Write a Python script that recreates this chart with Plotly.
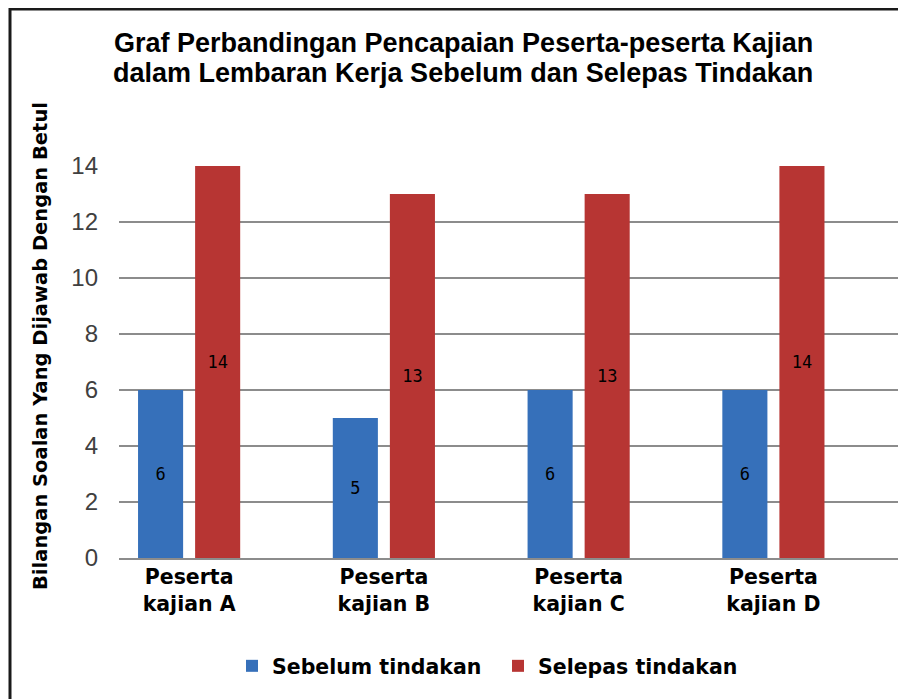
import plotly.graph_objects as go

categories = ["Peserta<br>kajian A", "Peserta<br>kajian B", "Peserta<br>kajian C", "Peserta<br>kajian D"]
sebelum = [6, 5, 6, 6]
selepas = [14, 13, 13, 14]
series_names = ["Sebelum tindakan", "Selepas tindakan"]
y_ticks = [0, 2, 4, 6, 8, 10, 12, 14]
title_lines = ["Graf Perbandingan Pencapaian Peserta-peserta Kajian",
               "dalam Lembaran Kerja Sebelum dan Selepas Tindakan"]
y_title = "Bilangan Soalan Yang Dijawab Dengan Betul"

W, H = 906, 699
OFF = 8  # page body margin
# plot area in screen coordinates
SL, SR, ST, SB = 119, 900, 166, 558
L, T = SL - OFF, ST - OFF
pw, ph = SR - SL, SB - ST
R = W - L - pw
B = H - T - ph

def px_x(s):
    return (s - SL) / pw

def px_y(s):
    return (SB - s) / ph

label_font = dict(family="DejaVu Sans Mono", size=17, color="#000000")

fig = go.Figure()
fig.add_trace(go.Bar(
    x=categories, y=sebelum, name=series_names[0],
    marker=dict(color="#3670BA", line=dict(width=0)),
    text=sebelum, textposition="inside", insidetextanchor="middle",
    textfont=label_font, textangle=0,
))
fig.add_trace(go.Bar(
    x=categories, y=selepas, name=series_names[1],
    marker=dict(color="#B73533", line=dict(width=0)),
    text=selepas, textposition="inside", insidetextanchor="middle",
    textfont=label_font, textangle=0,
))

title_font = dict(family="Liberation Sans", size=27, color="#000000", weight="bold")

fig.update_layout(
    width=W, height=H,
    margin=dict(l=L, r=R, t=T, b=B, autoexpand=False),
    paper_bgcolor="white", plot_bgcolor="white",
    barmode="group", bargap=0.414, bargroupgap=0.21,
    xaxis=dict(
        range=[-0.36, 3.65], showgrid=False, showline=True, linecolor="#8c8c8c", linewidth=1.5,
        ticks="", tickfont=dict(family="DejaVu Sans", size=20.5, color="#000000", weight="bold"),
        zeroline=False,
    ),
    yaxis=dict(
        range=[0, 14], tickvals=y_ticks, showgrid=True, gridcolor="#8c8c8c", gridwidth=1.5,
        showline=False, zeroline=False, ticks="",
        tickfont=dict(family="Liberation Sans", size=24, color="#404040"),
        ticklabelstandoff=20,
    ),
    legend=dict(
        orientation="h", x=px_x(232), xanchor="left", y=px_y(666), yanchor="middle",
        font=dict(family="DejaVu Sans", size=20.5, color="#000000", weight="bold"),
        itemsizing="constant", entrywidth=221, entrywidthmode="pixels",
        bgcolor="rgba(0,0,0,0)",
    ),
    annotations=[
        dict(text=title_lines[0], xref="paper", yref="paper", x=px_x(463), y=px_y(43),
             xanchor="center", yanchor="middle", showarrow=False, font=title_font),
        dict(text=title_lines[1], xref="paper", yref="paper", x=px_x(463), y=px_y(73),
             xanchor="center", yanchor="middle", showarrow=False, font=title_font),
        dict(text=y_title, textangle=-90,
             xref="paper", yref="paper", x=px_x(40), y=px_y(346),
             xanchor="center", yanchor="middle", showarrow=False,
             font=dict(family="DejaVu Sans", size=19.5, color="#000000", weight="bold")),
    ],
    shapes=[dict(
        type="rect", xref="paper", yref="paper",
        x0=px_x(10), x1=px_x(960), y0=px_y(760), y1=px_y(9),
        line=dict(color="#1a1a1a", width=3), fillcolor="rgba(0,0,0,0)", layer="above",
    )],
)

fig.write_html("out.html")
